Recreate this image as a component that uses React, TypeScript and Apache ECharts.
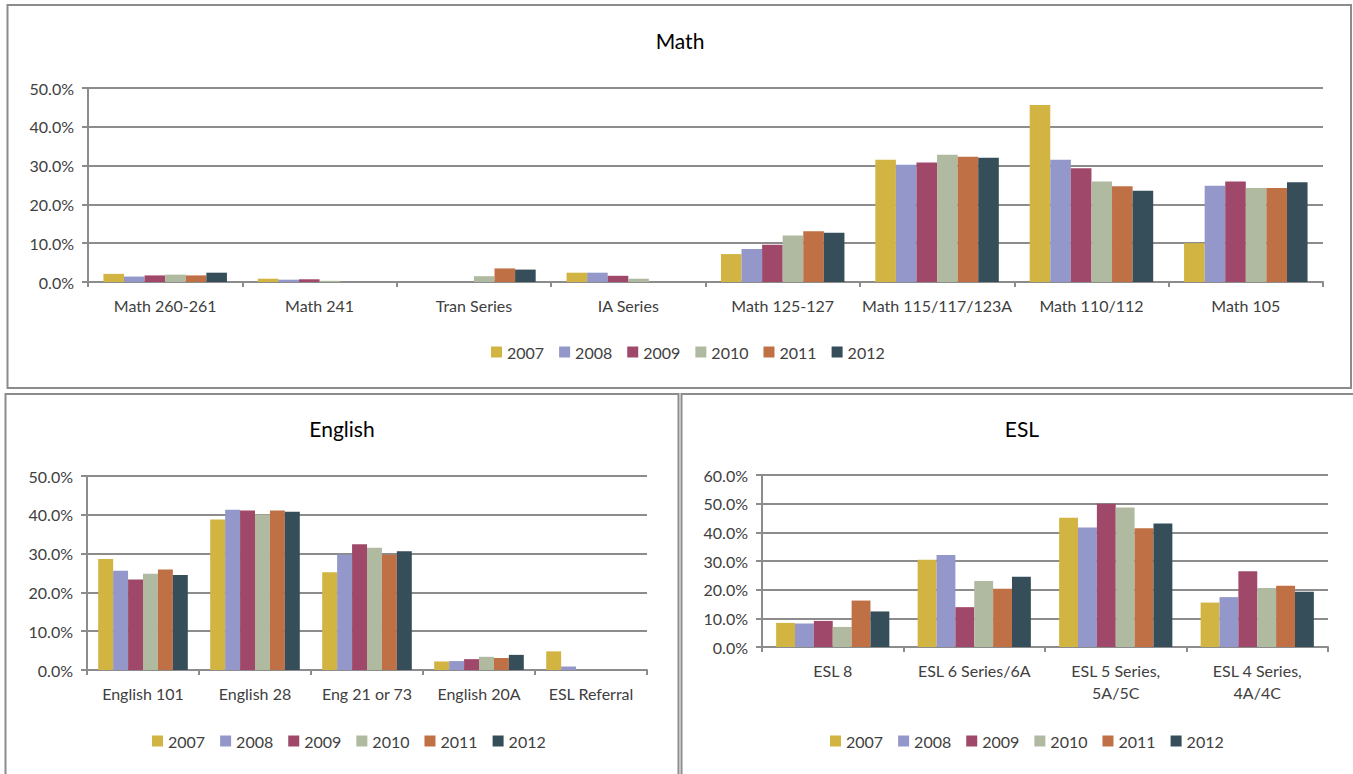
import React, { useEffect, useRef } from "react";
import * as echarts from "echarts";

const YEARS = ["2007", "2008", "2009", "2010", "2011", "2012"];
const COLORS = ["#D1B441", "#9497C9", "#A0486A", "#B0BAA0", "#C07045", "#354E5A"];

const mathCategories = ["Math 260-261", "Math 241", "Tran Series", "IA Series", "Math 125-127", "Math 115/117/123A", "Math 110/112", "Math 105"];
const math2007 = [2.1, 0.85, 0, 2.4, 7.2, 31.5, 45.6, 10.0];
const math2008 = [1.4, 0.6, 0, 2.4, 8.5, 30.2, 31.5, 24.8];
const math2009 = [1.7, 0.7, 0, 1.6, 9.6, 30.8, 29.3, 25.9];
const math2010 = [1.9, 0.3, 1.5, 0.85, 12.0, 32.8, 25.9, 24.2];
const math2011 = [1.7, 0, 3.5, 0, 13.1, 32.3, 24.7, 24.2];
const math2012 = [2.4, 0, 3.2, 0, 12.7, 32.0, 23.5, 25.7];

const englishCategories = ["English 101", "English 28", "Eng 21 or 73", "English 20A", "ESL Referral"];
const eng2007 = [28.6, 38.8, 25.2, 2.2, 4.8];
const eng2008 = [25.6, 41.3, 29.7, 2.3, 0.9];
const eng2009 = [23.3, 41.1, 32.4, 2.8, 0];
const eng2010 = [24.8, 40.1, 31.5, 3.4, 0];
const eng2011 = [25.9, 41.1, 29.7, 3.1, 0];
const eng2012 = [24.5, 40.8, 30.6, 3.9, 0];

const eslCategories = ["ESL 8", "ESL 6 Series/6A", "ESL 5 Series, 5A/5C", "ESL 4 Series, 4A/4C"];
const esl2007 = [8.4, 30.4, 45.1, 15.5];
const esl2008 = [8.2, 32.1, 41.7, 17.4];
const esl2009 = [9.1, 13.9, 50.0, 26.4];
const esl2010 = [7.0, 23.0, 48.7, 20.6];
const esl2011 = [16.2, 20.3, 41.4, 21.4];
const esl2012 = [12.4, 24.5, 43.1, 19.3];

const mathMax = 50;
const englishMax = 50;
const eslMax = 60;
const yInterval = 10;

const FONT = "Lato, 'Noto Sans', sans-serif";
const TEXT = "#404040";
const LINE = "#8c8c8c";

export default function App() {
  const ref = useRef<HTMLDivElement>(null);

  useEffect(() => {
    if (!ref.current) return;
    const chart = echarts.init(ref.current, null, { renderer: "svg" });

    const charts = [
      { cats: mathCategories, data: [math2007, math2008, math2009, math2010, math2011, math2012], max: mathMax, grid: { left: 88, top: 88, width: 1235, height: 194 } },
      { cats: englishCategories, data: [eng2007, eng2008, eng2009, eng2010, eng2011, eng2012], max: englishMax, grid: { left: 87, top: 476, width: 560, height: 194 } },
      { cats: eslCategories, data: [esl2007, esl2008, esl2009, esl2010, esl2011, esl2012], max: eslMax, grid: { left: 762, top: 475, width: 566, height: 172 } },
    ];

    const xAxis = charts.map((c, i) => ({
      type: "category",
      gridIndex: i,
      data: c.cats,
      axisLine: { show: true, lineStyle: { color: LINE, width: 2 } },
      axisTick: { show: true, length: 5, lineStyle: { color: LINE, width: 2 } },
      axisLabel: {
        interval: 0,
        margin: 12,
        fontFamily: FONT,
        fontSize: 16,
        color: TEXT,
        lineHeight: 22,
        formatter: (v: string) => v.replace(", ", ",\n"),
      },
    }));

    const yAxis = charts.map((c, i) => ({
      type: "value",
      gridIndex: i,
      min: 0,
      max: c.max,
      interval: yInterval,
      axisLine: { show: true, lineStyle: { color: LINE, width: 2 } },
      axisTick: { show: true, length: 6, lineStyle: { color: LINE, width: 2 } },
      splitLine: { show: true, lineStyle: { color: LINE, width: 2 } },
      axisLabel: {
        margin: 14,
        fontFamily: FONT,
        fontSize: 16,
        color: TEXT,
        formatter: (v: number) => v.toFixed(1) + "%",
      },
    }));

    const series: any[] = [];
    charts.forEach((c, i) => {
      c.data.forEach((d, j) => {
        series.push({
          type: "bar",
          name: YEARS[j],
          xAxisIndex: i,
          yAxisIndex: i,
          data: d,
          barGap: "0%",
          barCategoryGap: "20%",
          itemStyle: { color: COLORS[j] },
        });
      });
    });

    const legendBase = {
      data: YEARS,
      icon: "rect",
      itemWidth: 11,
      itemHeight: 11,
      itemGap: 15,
      textStyle: { fontFamily: FONT, fontSize: 16, color: TEXT },
    };

    const titleStyle = (text: string, x: number, y: number) => ({
      type: "text",
      x,
      y,
      style: { text, fill: "#000", font: `21px ${FONT}`, align: "center", verticalAlign: "middle" },
    });

    chart.setOption({
      animation: false,
      color: COLORS,
      grid: charts.map((c) => c.grid),
      xAxis,
      yAxis,
      series,
      legend: [
        { ...legendBase, left: 486, top: 339 },
        { ...legendBase, left: 147, top: 728 },
        { ...legendBase, left: 825, top: 728 },
      ],
      graphic: [
        { type: "rect", shape: { x: 7.5, y: 5, width: 1343.5, height: 383 }, style: { fill: "none", stroke: LINE, lineWidth: 2 } },
        { type: "rect", shape: { x: 5.5, y: 394, width: 673, height: 400 }, style: { fill: "none", stroke: LINE, lineWidth: 2 } },
        { type: "rect", shape: { x: 681.5, y: 394, width: 700, height: 400 }, style: { fill: "none", stroke: LINE, lineWidth: 2 } },
        titleStyle("Math", 680, 40),
        titleStyle("English", 342, 428),
        titleStyle("ESL", 1022, 428),
      ],
    });

    return () => chart.dispose();
  }, []);

  return (
    <div
      ref={ref}
      style={{ position: "fixed", left: 0, top: 0, width: 1353, height: 774, background: "#fff" }}
    />
  );
}
